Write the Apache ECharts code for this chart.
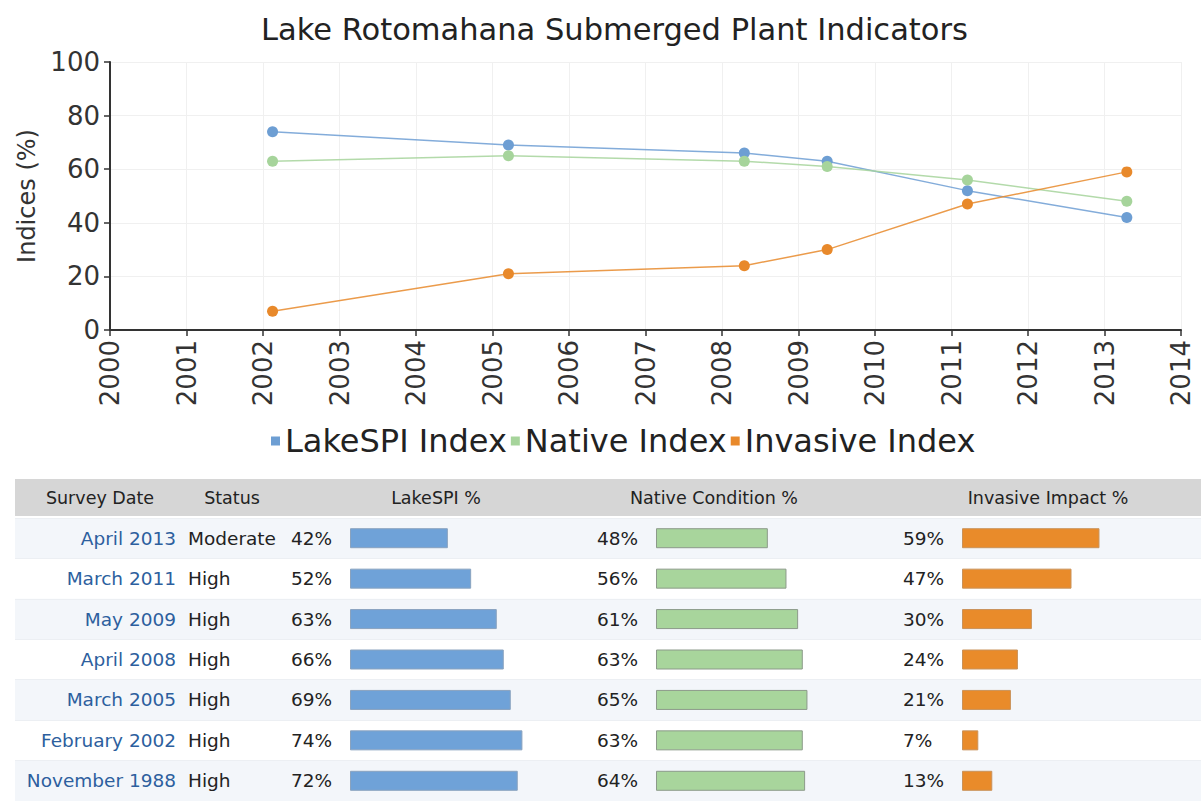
<!DOCTYPE html>
<html>
<head>
<meta charset="utf-8">
<title>Lake Rotomahana Submerged Plant Indicators</title>
<script src="https://cdn.jsdelivr.net/npm/echarts@6.0.0/dist/echarts.min.js"></script>
<style>
  html, body { margin: 0; padding: 0; background: #fff; }
  #main { width: 1201px; height: 801px; }
</style>
</head>
<body>
<div id="main"></div>
<script>
// survey table rows, newest first
const surveyDates = ['April 2013', 'March 2011', 'May 2009', 'April 2008', 'March 2005', 'February 2002', 'November 1988'];
const statusList = ['Moderate', 'High', 'High', 'High', 'High', 'High', 'High'];
const lakeSpi = [42, 52, 63, 66, 69, 74, 72];
const nativeCond = [48, 56, 61, 63, 65, 63, 64];
const invasiveImpact = [59, 47, 30, 24, 21, 7, 13];
const seriesNames = ['LakeSPI Index', 'Native Index', 'Invasive Index'];
const headers = ['Survey Date', 'Status', 'LakeSPI %', 'Native Condition %', 'Invasive Impact %'];
const yearMin = 2000, yearMax = 2014;

const FONT = 'DejaVu Sans';
const months = ['January', 'February', 'March', 'April', 'May', 'June', 'July',
  'August', 'September', 'October', 'November', 'December'];
const colors = ['#6d9ed3', '#a6d49b', '#e8892b'];

// survey date -> decimal year (middle of the month)
function toYear(s) {
  let p = s.split(' ');
  return +p[1] + (months.indexOf(p[0]) + 0.5) / 12;
}

// only surveys inside the chart's year range, oldest first
function linePoints(vals) {
  let out = [];
  surveyDates.forEach((d, i) => {
    let x = toYear(d);
    if (x >= yearMin) out.push([x, vals[i]]);
  });
  return out.reverse();
}

let rowIdx = surveyDates.map((d, i) => String(i));

// table geometry
const tableTop = 518, tableH = 283, barW = 233;
const barLeft = [350, 656, 962];
const cellFont = 18.5;

function rowAxis(grid, margin, align, texts, color) {
  return {
    type: 'category', gridIndex: grid, position: 'left', inverse: true, data: rowIdx,
    axisLine: {show: false}, axisTick: {show: false}, splitLine: {show: false},
    axisLabel: {
      margin: margin, align: align, fontFamily: FONT, fontSize: cellFont, color: color || '#222',
      formatter: (v, i) => texts[i]
    }
  };
}

function headText(x, s) {
  return {
    type: 'text', x: x, y: 498,
    style: {text: s, fontFamily: FONT, fontSize: 17.5, fill: '#222', align: 'center', verticalAlign: 'middle'}
  };
}

let pct = a => a.map(v => v + '%');

let chart = echarts.init(document.getElementById('main'), null, {renderer: 'svg'});

let option = {
  animation: false,
  textStyle: {fontFamily: FONT},
  title: {
    text: 'Lake Rotomahana Submerged Plant Indicators',
    left: 256, top: 9,
    textStyle: {fontFamily: FONT, fontSize: 30.5, fontWeight: 'normal', color: '#222'}
  },
  legend: {
    data: seriesNames, top: 420, left: 266,
    icon: 'rect', itemWidth: 9, itemHeight: 9, itemGap: 4,
    textStyle: {fontFamily: FONT, fontSize: 32, color: '#222'}
  },
  grid: [
    {left: 110, right: 20, top: 62, height: 268},
    {left: 15, right: 0, top: tableTop, height: tableH},
    {left: barLeft[0], width: barW, top: tableTop, height: tableH},
    {left: barLeft[1], width: barW, top: tableTop, height: tableH},
    {left: barLeft[2], width: barW, top: tableTop, height: tableH}
  ],
  xAxis: [
    {
      type: 'value', gridIndex: 0, min: yearMin, max: yearMax, interval: 1,
      axisLine: {lineStyle: {color: '#333', width: 2}},
      axisTick: {length: 6, lineStyle: {color: '#333', width: 1.5}},
      axisLabel: {rotate: 90, fontSize: 26, color: '#333', margin: 10, formatter: v => String(v)},
      splitLine: {show: true, lineStyle: {color: '#f0f0f0'}}
    },
    {type: 'value', gridIndex: 1, min: 0, max: 1, show: false},
    {type: 'value', gridIndex: 2, min: 0, max: 100, show: false},
    {type: 'value', gridIndex: 3, min: 0, max: 100, show: false},
    {type: 'value', gridIndex: 4, min: 0, max: 100, show: false}
  ],
  yAxis: [
    {
      type: 'value', gridIndex: 0, min: 0, max: 100, interval: 20,
      name: 'Indices (%)', nameLocation: 'middle', nameGap: 70,
      nameTextStyle: {fontSize: 24, color: '#333'},
      axisLine: {show: true, lineStyle: {color: '#333', width: 2}},
      axisTick: {show: true, length: 6, lineStyle: {color: '#333', width: 1.5}},
      axisLabel: {fontSize: 26, color: '#333', margin: 10},
      splitLine: {show: true, lineStyle: {color: '#f0f0f0'}}
    },
    // striped rows behind the table
    {
      type: 'category', gridIndex: 1, inverse: true, data: rowIdx,
      axisLine: {show: false}, axisTick: {show: false}, axisLabel: {show: false},
      splitArea: {show: true, areaStyle: {color: ['#f3f6fa', '#ffffff']}},
      splitLine: {show: true, lineStyle: {color: '#eceff3'}}
    },
    rowAxis(2, barLeft[0] - 176, 'right', surveyDates, '#2d5f9e'),
    rowAxis(2, barLeft[0] - 188, 'left', statusList),
    rowAxis(2, 59, 'left', pct(lakeSpi)),
    rowAxis(3, 59, 'left', pct(nativeCond)),
    rowAxis(4, 59, 'left', pct(invasiveImpact))
  ],
  graphic: [
    {type: 'rect', left: 15, top: 479, shape: {width: 1186, height: 37}, style: {fill: '#d6d6d6'}, z: -1},
    headText(100, headers[0]),
    headText(232, headers[1]),
    headText(436, headers[2]),
    headText(714, headers[3]),
    headText(1048, headers[4])
  ],
  series: [
    {
      name: seriesNames[0], type: 'line', xAxisIndex: 0, yAxisIndex: 0,
      data: linePoints(lakeSpi), color: colors[0],
      symbol: 'circle', symbolSize: 11, lineStyle: {width: 1.5, opacity: 0.85}
    },
    {
      name: seriesNames[1], type: 'line', xAxisIndex: 0, yAxisIndex: 0,
      data: linePoints(nativeCond), color: colors[1],
      symbol: 'circle', symbolSize: 11, lineStyle: {width: 1.5, opacity: 0.85}
    },
    {
      name: seriesNames[2], type: 'line', xAxisIndex: 0, yAxisIndex: 0,
      data: linePoints(invasiveImpact), color: colors[2],
      symbol: 'circle', symbolSize: 11, lineStyle: {width: 1.5, opacity: 0.85}
    },
    {
      name: headers[2], type: 'bar', xAxisIndex: 2, yAxisIndex: 4, data: lakeSpi, barWidth: 20,
      itemStyle: {color: '#6fa2d8', borderColor: '#8aa3bf', borderWidth: 1}
    },
    {
      name: headers[3], type: 'bar', xAxisIndex: 3, yAxisIndex: 5, data: nativeCond, barWidth: 20,
      itemStyle: {color: '#a8d59c', borderColor: '#8c9a8a', borderWidth: 1}
    },
    {
      name: headers[4], type: 'bar', xAxisIndex: 4, yAxisIndex: 6, data: invasiveImpact, barWidth: 20,
      itemStyle: {color: '#e98b2a', borderColor: '#c9925a', borderWidth: 1}
    }
  ]
};

chart.setOption(option);
</script>
</body>
</html>
